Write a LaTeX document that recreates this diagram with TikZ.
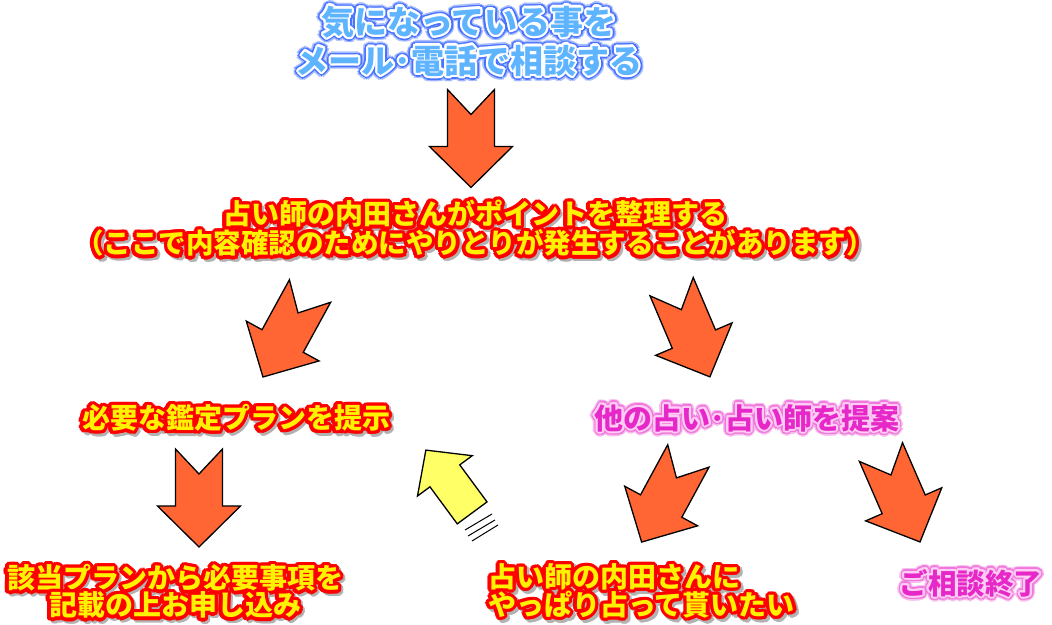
\documentclass[tikz,border=0pt]{standalone}
\usepackage{fontspec}
\setmainfont{Noto Sans CJK JP}
\definecolor{arroworange}{RGB}{255,102,51}
\definecolor{arrowyellow}{RGB}{255,255,102}
\definecolor{tfill}{RGB}{95,180,255}
\definecolor{tglow}{RGB}{40,90,255}
\definecolor{pfill}{RGB}{230,40,200}
\definecolor{pline}{RGB}{255,205,245}
\definecolor{pglow}{RGB}{240,120,220}
\newcommand\lay[5]{%
  \foreach \a in {0,22.5,...,337.5}{%
    \pgfmathsetlengthmacro\dx{#3+#2*cos(\a)}%
    \pgfmathsetlengthmacro\dy{#4+#2*sin(\a)}%
    \rlap{\hspace*{\dx}\raisebox{\dy}[0pt][0pt]{\color{#1}#5}}}}
\newcommand\redt[1]{\lay{black!30}{3.3}{2.5}{-2.5}{#1}\lay{red}{3.3}{0}{0}{#1}\lay{red}{1.7}{0}{0}{#1}\textcolor{yellow}{#1}}
\newcommand\bluet[1]{\lay{tglow!40}{5.5}{0}{0}{#1}\lay{tglow!85}{4}{0}{0}{#1}\lay{white}{2.2}{0}{0}{#1}\lay{white}{1.1}{0}{0}{#1}\textcolor{tfill}{#1}}
\newcommand\pinkt[1]{\lay{pglow!50}{5}{0}{0}{#1}\lay{pglow}{3.5}{0}{0}{#1}\lay{pline}{2}{0}{0}{#1}\lay{pline}{1}{0}{0}{#1}\textcolor{pfill}{#1}}
\tikzset{
  lbl/.style={inner sep=0pt, font=\bfseries\fontsize{28}{29}\selectfont},
  bigarrow/.style={fill=arroworange, draw=black, line width=1.3pt, line join=miter},
  downarrow/.pic={\draw[bigarrow] (-23.5,49) -- (0,24) -- (23.5,49) -- (23.5,-8) -- (41.5,-8) -- (0,-49) -- (-41.5,-8) -- (-23.5,-8) -- cycle;},
  backarrow/.pic={\draw[fill=arrowyellow, draw=black, line width=1.3pt, line join=miter] (-39,-18.5) -- (7,-18.5) -- (7,-34) -- (39,0) -- (7,34) -- (7,18.5) -- (-39,18.5) -- cycle;},
  speed/.style={draw=black, line width=1pt}
}
\begin{document}
\begin{tikzpicture}[x=1pt,y=1pt]
\useasboundingbox[fill=white] (0,0) rectangle (1052,624);
% block arrows
\pic at (471,485.5) {downarrow};
\pic[rotate=-28.7] at (286.5,290) {downarrow};
\pic[rotate=23] at (690.75,292.25) {downarrow};
\pic at (199,126) {downarrow};
\pic[rotate=-28.5] at (665,125) {downarrow};
\pic[rotate=23.5] at (900.5,127) {downarrow};
\pic[rotate=126.4] at (449,142.5) {backarrow};
% speed lines
\draw[speed] (465,94) -- (492,110);
\draw[speed] (468,88) -- (495,104);
\draw[speed] (472,83) -- (498,99);
% labels
\node[lbl, align=center, font=\bfseries\fontsize{33}{39}\selectfont] (consult) at (469,583)
  {\bluet{気になっている事を}\\\bluet{メール･電話で相談する}};
\node[lbl, align=center, font=\bfseries\fontsize{28}{29}\selectfont] (sort) at (475,395.5)
  {\redt{占い師の内田さんがポイントを整理する}\\{\fontsize{27.5}{29}\selectfont\redt{（ここで内容確認のためにやりとりが発生することがあります）}}};
\node[lbl] (plan) at (236,206) {\redt{必要な鑑定プランを提示}};
\node[lbl, font=\bfseries\fontsize{29}{29}\selectfont] (other) at (747,206) {\pinkt{他の占い･占い師を提案}};
\node[lbl, align=center, font=\bfseries\fontsize{28}{27}\selectfont] (apply) at (175,32.5)
  {\redt{該当プランから必要事項を}\\\redt{記載の上お申し込み}};
\node[lbl, align=left, anchor=west, font=\bfseries\fontsize{28}{26}\selectfont] (again) at (488,33)
  {\redt{占い師の内田さんに}\\\redt{やっぱり占って貰いたい}};
\node[lbl, font=\bfseries\fontsize{28.5}{29}\selectfont] (end) at (971,41) {\pinkt{ご相談終了}};
\end{tikzpicture}
\end{document}
